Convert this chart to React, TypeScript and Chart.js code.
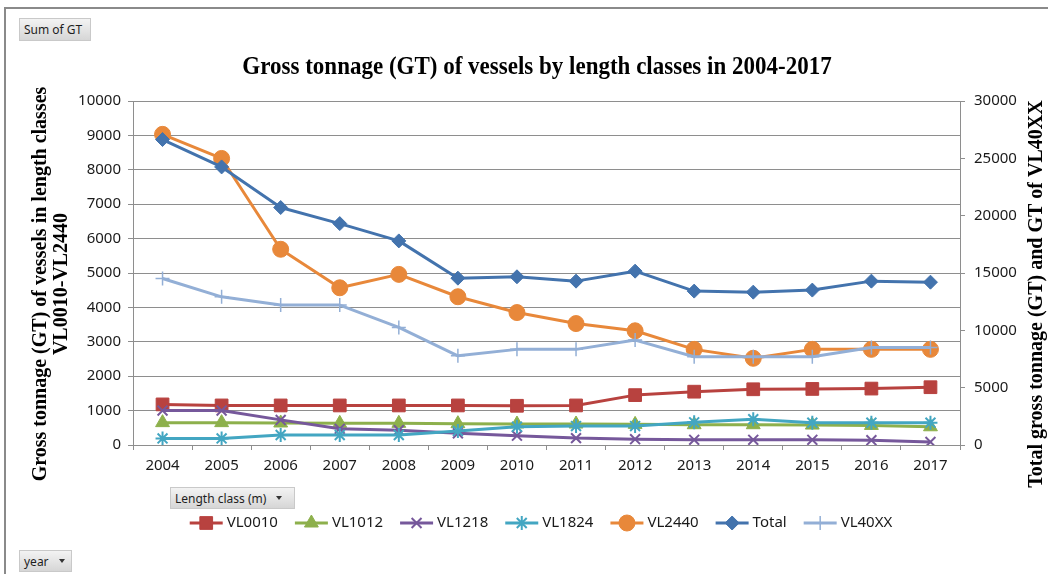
import React, { useEffect, useRef } from 'react';
import { Chart, registerables } from 'chart.js';
import { drawPoint } from 'chart.js/helpers';

Chart.register(...registerables);

// ---------- data ----------
const years = ['2004', '2005', '2006', '2007', '2008', '2009', '2010', '2011', '2012', '2013', '2014', '2015', '2016', '2017'];

const vl0010 = [1180, 1150, 1150, 1150, 1150, 1150, 1140, 1150, 1450, 1550, 1620, 1630, 1640, 1680];
const vl1012 = [650, 650, 640, 630, 630, 620, 610, 610, 600, 590, 590, 580, 570, 530];
const vl1218 = [1000, 1000, 730, 470, 430, 340, 270, 200, 170, 150, 150, 150, 140, 90];
const vl1824 = [190, 190, 290, 290, 290, 410, 530, 550, 550, 660, 750, 650, 650, 650];
const vl2440 = [9030, 8330, 5690, 4570, 4960, 4310, 3850, 3530, 3320, 2780, 2520, 2780, 2780, 2780];
const total = [26640, 24250, 20710, 19310, 17800, 14550, 14670, 14290, 15160, 13420, 13330, 13510, 14290, 14200];
const vl40xx = [14520, 12920, 12200, 12200, 10250, 7780, 8340, 8340, 9150, 7700, 7700, 7700, 8510, 8510];

const seriesNames = ['VL0010', 'VL1012', 'VL1218', 'VL1824', 'VL2440', 'Total', 'VL40XX'];
const seriesValues = [vl0010, vl1012, vl1218, vl1824, vl2440, total, vl40xx];
const seriesAxis = ['y', 'y', 'y', 'y', 'y', 'y1', 'y1'];

const leftMax = 10000;
const leftStep = 1000;
const rightMax = 30000;
const rightStep = 5000;

const chartTitle = 'Gross tonnage (GT) of vessels by length classes in 2004-2017';
const leftTitle1 = 'Gross tonnage (GT) of vessels in length classes';
const leftTitle2 = 'VL0010-VL2440';
const rightTitle = 'Total gross tonnage (GT) and GT of VL40XX';

// ---------- styles ----------
const seriesStyles = [
  { color: '#b8423f', pointStyle: 'rect', radius: 9, pw: 1 },
  { color: '#8db04c', pointStyle: 'triangle', radius: 8, pw: 1 },
  { color: '#76589b', pointStyle: 'crossRot', radius: 7, pw: 2 },
  { color: '#43a6c2', pointStyle: 'star', radius: 7, pw: 2 },
  { color: '#e8883a', pointStyle: 'circle', radius: 8, pw: 1 },
  { color: '#4373ad', pointStyle: 'rectRot', radius: 7, pw: 1 },
  { color: '#93afd6', pointStyle: 'cross', radius: 7, pw: 1.5 },
];

const TICK_FONT = { family: '"Noto Sans", sans-serif', size: 15 };
const GRID = '#8e8e8e';

const overlayPlugin = {
  id: 'overlayText',
  afterDraw(chart: any) {
    const ctx: CanvasRenderingContext2D = chart.ctx;
    ctx.save();
    ctx.fillStyle = '#000';
    ctx.textAlign = 'center';
    ctx.textBaseline = 'middle';

    ctx.save();
    ctx.translate(537, 68);
    ctx.scale(1, 1.08);
    ctx.font = 'bold 23px "Liberation Serif", serif';
    ctx.fillText(chartTitle, 0, 0);
    ctx.restore();

    ctx.font = 'bold 20px "Liberation Serif", serif';
    ctx.save();
    ctx.translate(41, 284);
    ctx.rotate(-Math.PI / 2);
    ctx.fillText(leftTitle1, 0, 0);
    ctx.fillText(leftTitle2, 0, 21);
    ctx.restore();

    ctx.save();
    ctx.translate(1037, 294);
    ctx.rotate(-Math.PI / 2);
    ctx.fillText(rightTitle, 0, 0);
    ctx.restore();

    // legend
    ctx.font = '15px "Noto Sans", sans-serif';
    const lineLen = 33;
    const gapLT = 4;
    const gapItem = 17;
    const widths = seriesNames.map((n) => ctx.measureText(n).width);
    let totalW = 0;
    widths.forEach((w, i) => {
      totalW += lineLen + gapLT + w + (i < widths.length - 1 ? gapItem : 0);
    });
    let x = 541 - totalW / 2;
    const y = 523;
    ctx.textAlign = 'left';
    seriesNames.forEach((name, i) => {
      const st = seriesStyles[i];
      ctx.strokeStyle = st.color;
      ctx.fillStyle = st.color;
      ctx.lineWidth = 3;
      ctx.beginPath();
      ctx.moveTo(x, y);
      ctx.lineTo(x + lineLen, y);
      ctx.stroke();
      ctx.lineWidth = st.pw;
      drawPoint(ctx, { pointStyle: st.pointStyle, radius: st.radius, rotation: 0, borderWidth: st.pw } as any, x + lineLen / 2, y);
      ctx.fillStyle = '#1a1a1a';
      ctx.fillText(name, x + lineLen + gapLT, y);
      x += lineLen + gapLT + widths[i] + gapItem;
    });
    ctx.restore();
  },
};

const btnBase: React.CSSProperties = {
  position: 'absolute',
  boxSizing: 'border-box',
  background: 'linear-gradient(#f3f3f3, #d6d6d6)',
  border: '1px solid #c9c9c9',
  font: '12px "Noto Sans", sans-serif',
  color: '#1e1e1e',
  display: 'flex',
  alignItems: 'center',
  paddingLeft: 4,
  whiteSpace: 'nowrap',
};

const Arrow = () => (
  <span
    style={{
      display: 'inline-block',
      width: 0,
      height: 0,
      borderLeft: '3.5px solid transparent',
      borderRight: '3.5px solid transparent',
      borderTop: '4px solid #333',
      marginLeft: 10,
    }}
  />
);

export default function App() {
  const canvasRef = useRef<HTMLCanvasElement | null>(null);

  useEffect(() => {
    if (!canvasRef.current) return;
    const datasets = seriesNames.map((name, i) => {
      const st = seriesStyles[i];
      return {
        label: name,
        data: seriesValues[i],
        yAxisID: seriesAxis[i],
        borderColor: st.color,
        backgroundColor: st.color,
        borderWidth: 3,
        tension: 0,
        borderJoinStyle: 'round' as const,
        pointStyle: st.pointStyle,
        pointRadius: st.radius,
        pointHoverRadius: st.radius,
        pointBorderWidth: st.pw,
        pointBorderColor: st.color,
        pointBackgroundColor: st.color,
        order: seriesNames.length - i,
        fill: false,
      };
    });

    const chart = new Chart(canvasRef.current, {
      type: 'line',
      data: { labels: years, datasets: datasets as any },
      plugins: [overlayPlugin],
      options: {
        animation: false,
        responsive: false,
        devicePixelRatio: 1,
        layout: { padding: { top: 101, bottom: 89, left: 0, right: 0 } },
        plugins: {
          legend: { display: false },
          title: { display: false },
          tooltip: { enabled: false },
        },
        scales: {
          x: {
            type: 'category',
            offset: true,
            grid: { offset: true, drawOnChartArea: false, drawTicks: true, tickLength: 5, color: GRID },
            border: { color: GRID, width: 1 },
            ticks: { font: TICK_FONT, color: '#1a1a1a', padding: 7, maxRotation: 0, autoSkip: false },
            afterFit: (s: any) => {
              s.height = 40;
            },
          },
          y: {
            position: 'left',
            min: 0,
            max: leftMax,
            grid: { color: GRID, tickLength: 5, drawTicks: true },
            border: { color: GRID, width: 1 },
            ticks: { stepSize: leftStep, font: TICK_FONT, color: '#1a1a1a', padding: 7, callback: (v: any) => String(v) },
            afterFit: (s: any) => {
              s.width = 133;
            },
          },
          y1: {
            position: 'right',
            min: 0,
            max: rightMax,
            grid: { drawOnChartArea: false, color: GRID, tickLength: 5, drawTicks: true },
            border: { color: GRID, width: 1 },
            ticks: { stepSize: rightStep, font: TICK_FONT, color: '#1a1a1a', padding: 9, callback: (v: any) => String(v) },
            afterFit: (s: any) => {
              s.width = 88;
            },
          },
        },
      } as any,
    });
    return () => chart.destroy();
  }, []);

  return (
    <div
      style={{
        position: 'absolute',
        left: 0,
        top: 0,
        width: 1048,
        height: 574,
        overflow: 'hidden',
        background: '#fff',
      }}
    >
      <div
        style={{
          position: 'absolute',
          left: 4,
          top: 7,
          width: 1100,
          height: 700,
          borderLeft: '2px solid #8a8a8a',
          borderTop: '2px solid #8a8a8a',
        }}
      />
      <canvas
        ref={canvasRef}
        width={1048}
        height={574}
        style={{ position: 'absolute', left: 0, top: 0, width: 1048, height: 574 }}
      />
      <div style={{ ...btnBase, left: 19, top: 18, width: 72, height: 23 }}>Sum of GT</div>
      <div style={{ ...btnBase, left: 170, top: 487, width: 125, height: 22 }}>
        Length class (m)
        <Arrow />
      </div>
      <div style={{ ...btnBase, left: 19, top: 550, width: 53, height: 22 }}>
        year
        <Arrow />
      </div>
    </div>
  );
}
